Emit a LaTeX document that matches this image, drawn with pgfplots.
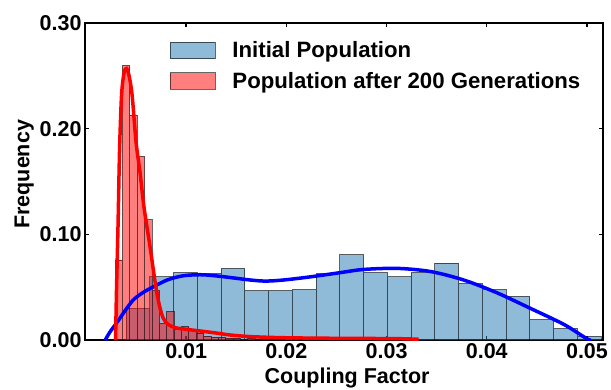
\documentclass[border=0pt]{standalone}
\usepackage{pgfplots}
\pgfplotsset{compat=1.18}
\usepackage{fontspec}
\setmainfont{Liberation Sans}
\definecolor{tabblue}{HTML}{1F77B4}
\newcommand\fs{\fontsize{21.5}{25}\selectfont\bfseries}
\newcommand\lfs{\fontsize{22.2}{26}\selectfont\bfseries}
\begin{document}
\begin{tikzpicture}
\useasboundingbox (-85pt,-49pt) rectangle (526pt,340.3pt);
\begin{axis}[
  at={(0,0)}, anchor=south west,
  scale only axis, width=518pt, height=317.3pt,
  xmin=-0.0001, xmax=0.0516, ymin=0, ymax=0.30,
  axis line style={line width=1.8pt},
  tick align=inside, major tick length=4pt,
  tick style={line width=1.4pt, black},
  xtick={0.01,0.02,0.03,0.04,0.05},
  ytick={0,0.1,0.2,0.3},
  scaled ticks=false,
  xticklabel style={/pgf/number format/.cd, fixed, fixed zerofill, precision=2},
  yticklabel style={/pgf/number format/.cd, fixed, fixed zerofill, precision=2},
  /pgf/number format/assume math mode=true,
  tick label style={font=\fs},
  xlabel={Coupling Factor}, ylabel={Frequency},
  every axis x label/.style={at={(axis description cs:0.506,0)}, anchor=base, yshift=-42.7pt, font=\fs},
  every axis y label/.style={at={(axis description cs:-0.1075,0.523)}, rotate=90, anchor=base, font=\fs},
  legend style={draw=none, fill=none, at={(rel axis cs:0.164,0.941)}, anchor=north west,
    font=\lfs, inner sep=0pt, outer sep=0pt, row sep=13.0pt, column sep=16.7pt,
    nodes={inner sep=0pt, outer sep=0pt}},
  legend cell align=left,
  legend image code/.code={\draw[#1] (0pt,-8pt) rectangle (45pt,8.5pt);},
]
% Initial population histogram
\addplot[ybar interval, fill=tabblue, fill opacity=0.5, draw=black, draw opacity=0.6, line width=0.8pt]
coordinates {
(0.00400,0.030) (0.00637,0.060) (0.00874,0.064) (0.01111,0.063) (0.01348,0.068)
(0.01585,0.047) (0.01822,0.047) (0.02059,0.048) (0.02296,0.063) (0.02533,0.081)
(0.02770,0.064) (0.03007,0.060) (0.03244,0.064) (0.03481,0.073) (0.03718,0.0535)
(0.03955,0.048) (0.04192,0.0415) (0.04429,0.0195) (0.04666,0.011) (0.04903,0.0038)
(0.05140,0.0038)
};
\addlegendentry{Initial Population}
% Population after 200 generations
\addplot[ybar interval, fill=red, fill opacity=0.5, draw=black, draw opacity=0.6, line width=0.8pt]
coordinates {
(0.002900,0.076) (0.003636,0.260) (0.004372,0.213) (0.005108,0.174) (0.005844,0.114)
(0.006580,0.047) (0.007316,0.016) (0.008052,0.027) (0.008788,0.010) (0.009524,0.013)
(0.010260,0.009) (0.010996,0.007) (0.011732,0.004) (0.012468,0.003) (0.013204,0.003)
(0.013940,0.002) (0.014676,0.002) (0.015412,0.001) (0.016148,0.002) (0.016884,0.001)
(0.017620,0.001) (0.018356,0.001) (0.019092,0.001) (0.019828,0.002) (0.020564,0.001)
(0.021300,0.001) (0.022036,0.001) (0.022772,0.0005) (0.023508,0.001) (0.024244,0.0005)
(0.024980,0.001) (0.025716,0.0005) (0.026452,0.0005) (0.027188,0.001) (0.027924,0.0005)
(0.028660,0.0005) (0.029396,0.0005) (0.030132,0.0005) (0.030868,0.0005) (0.031604,0.0005)
(0.032340,0.0005) (0.033076,0.0005)
};
\addlegendentry{Population after 200 Generations}
% fitted curves
\addplot[forget plot, blue, line width=3.5pt, smooth, tension=0.5] coordinates {
(0.0019,0) (0.0024,0.008) (0.0031,0.017) (0.0039,0.028) (0.0047,0.038) (0.0055,0.044)
(0.0064,0.049) (0.0081,0.057) (0.0097,0.061) (0.0114,0.062) (0.0129,0.061) (0.0147,0.059)
(0.0164,0.057) (0.0179,0.056) (0.0197,0.057) (0.0224,0.060) (0.0254,0.064) (0.0277,0.067)
(0.0311,0.068) (0.0344,0.065) (0.0377,0.057) (0.0410,0.045) (0.0444,0.030) (0.0477,0.015)
(0.0499,0.002) (0.0504,0)
};
\addplot[forget plot, red, line width=3.5pt, smooth, tension=0.5] coordinates {
(0.00295,0) (0.00305,0.05) (0.0032,0.11) (0.00335,0.18) (0.00355,0.232) (0.0038,0.253)
(0.00405,0.257) (0.0043,0.25) (0.0046,0.232) (0.0050,0.187) (0.0054,0.158) (0.0058,0.125)
(0.0064,0.088) (0.0069,0.055) (0.0073,0.034) (0.0077,0.021) (0.0082,0.015) (0.0089,0.012)
(0.0099,0.0105) (0.0114,0.0088) (0.0129,0.007) (0.0144,0.005) (0.0164,0.0035) (0.0194,0.0025)
(0.0234,0.002) (0.0274,0.0018) (0.0314,0.0015) (0.0332,0.001)
};
\end{axis}
\end{tikzpicture}
\end{document}
